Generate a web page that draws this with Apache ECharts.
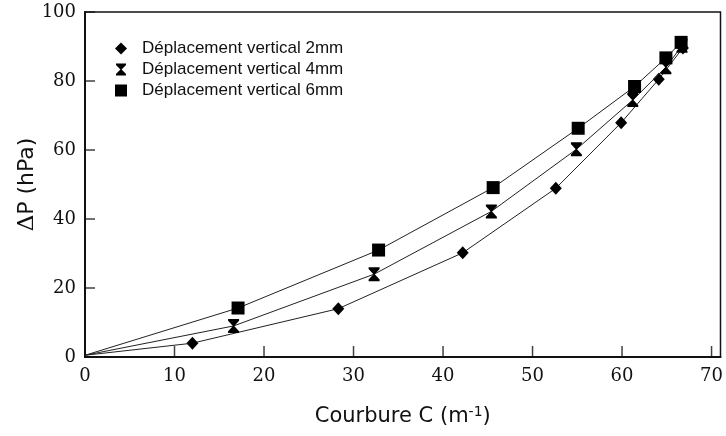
<!DOCTYPE html>
<html>
<head>
<meta charset="utf-8">
<script src="https://cdn.jsdelivr.net/npm/echarts@6/dist/echarts.min.js"></script>
<style>
  html, body { margin: 0; padding: 0; background: #fff; }
  #chart { width: 726px; height: 436px; }
</style>
</head>
<body>
<div id="chart"></div>
<script>
// Curvature C (m^-1) and pressure drop ΔP (hPa) for each vertical displacement
const seriesNames = ['Déplacement vertical 2mm', 'Déplacement vertical 4mm', 'Déplacement vertical 6mm'];
const curv2mm = [0, 12.0, 28.3, 42.2, 52.6, 59.9, 64.1, 66.8];
const dp2mm   = [0.5, 4.0, 14.0, 30.2, 48.9, 67.9, 80.5, 89.6];
const curv4mm = [0, 16.6, 32.3, 45.4, 54.9, 61.2, 64.9, 66.7];
const dp4mm   = [0.5, 9.0, 24.0, 42.2, 60.2, 74.5, 84.0, 90.2];
const curv6mm = [0, 17.1, 32.8, 45.6, 55.1, 61.4, 64.9, 66.6];
const dp6mm   = [0.5, 14.2, 31.0, 49.1, 66.3, 78.4, 86.7, 91.2];
const xTicks = [0, 10, 20, 30, 40, 50, 60, 70];
const yTicks = [0, 20, 40, 60, 80, 100];

const hourglass = 'path://M0,0 L10,0 L10,1.5 L5.6,6 L10,10.5 L10,12 L0,12 L0,10.5 L4.4,6 L0,1.5 Z';
const symbols = ['diamond', hourglass, 'rect'];
const symbolSizes = [[12, 13], [11, 14], [13, 13]];

function pairs(xs, ys) {
  return xs.map((x, i) => i === 0 ? { value: [x, ys[i]], symbol: 'none' } : [x, ys[i]]);
}
const dataSets = [pairs(curv2mm, dp2mm), pairs(curv4mm, dp4mm), pairs(curv6mm, dp6mm)];

// Inward tick marks: thin bars placed on the axes through the scales
function tickSeries(points, size, offset) {
  return {
    type: 'scatter',
    data: points,
    symbol: 'rect',
    symbolSize: size,
    symbolOffset: offset,
    itemStyle: { color: '#111' },
    silent: true,
    clip: false,
    emphasis: { disabled: true },
    z: 10
  };
}

const chart = echarts.init(document.getElementById('chart'));
chart.setOption({
  animation: false,
  backgroundColor: '#fff',
  grid: {
    left: 85, right: 4, top: 12, bottom: 79,
    show: true, borderColor: '#111', borderWidth: 1.5, containLabel: false
  },
  legend: {
    orient: 'vertical',
    left: 110, top: 35,
    itemWidth: 12, itemHeight: 12, itemGap: 4,
    textStyle: { fontFamily: 'Liberation Sans', fontSize: 17, color: '#111', padding: [0, 0, 0, 10] },
    data: seriesNames.map((n, i) => ({ name: n, icon: symbols[i] })),
    itemStyle: { color: '#000' }
  },
  xAxis: {
    type: 'value', min: 0, max: 71, interval: 10,
    name: '{a|Courbure C (m}{s|-1}{a|)}',
    nameLocation: 'middle', nameGap: 48, nameMoveOverlap: false,
    nameTextStyle: {
      rich: {
        a: { fontFamily: 'DejaVu Sans', fontSize: 21, color: '#111' },
        s: { fontFamily: 'DejaVu Sans', fontSize: 14, color: '#111', verticalAlign: 'top', padding: [0, 0, 10, 0] }
      }
    },
    axisLine: { show: true, lineStyle: { color: '#111', width: 2 } },
    axisTick: { show: false },
    axisLabel: { margin: 10, fontFamily: 'DejaVu Serif', fontSize: 18, color: '#111',
      formatter: v => (xTicks.indexOf(v) >= 0 ? String(v) : '') },
    splitLine: { show: false }
  },
  yAxis: {
    type: 'value', min: 0, max: 100, interval: 20,
    name: '{d|Δ}{a|P (hPa)}',
    nameLocation: 'middle', nameGap: 46, nameRotate: 90, nameMoveOverlap: false,
    nameTextStyle: {
      rich: {
        d: { fontFamily: 'DejaVu Serif', fontSize: 23, color: '#111' },
        a: { fontFamily: 'DejaVu Sans', fontSize: 22, color: '#111' }
      }
    },
    axisLine: { show: true, lineStyle: { color: '#111', width: 2 } },
    axisTick: { show: false },
    axisLabel: { margin: 9, fontFamily: 'DejaVu Serif', fontSize: 18, color: '#111',
      formatter: v => (yTicks.indexOf(v) >= 0 ? String(v) : '') },
    splitLine: { show: false }
  },
  series: seriesNames.map((n, i) => ({
    name: n,
    type: 'line',
    data: dataSets[i],
    symbol: symbols[i],
    symbolSize: symbolSizes[i],
    showAllSymbol: true,
    lineStyle: { color: '#222', width: 1 },
    itemStyle: { color: '#000', borderWidth: 0 },
    emphasis: { disabled: true },
    z: 2 + i
  })).concat([
    tickSeries(xTicks.map(v => [v, 0]), [1.5, 11], [0, -5.5]),
    tickSeries(yTicks.map(v => [0, v]), [10, 1.5], [5, 0])
  ])
});
</script>
</body>
</html>
